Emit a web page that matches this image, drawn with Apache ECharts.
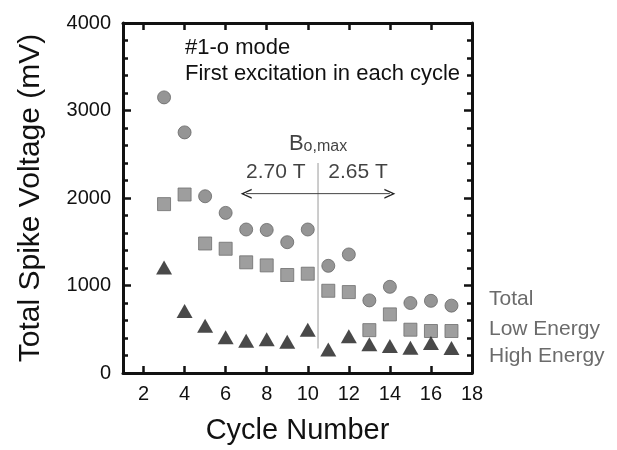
<!DOCTYPE html>
<html>
<head>
<meta charset="utf-8">
<script src="https://cdn.jsdelivr.net/npm/echarts@6/dist/echarts.min.js"></script>
<style>
  html, body { margin: 0; padding: 0; background: #fff; }
  #main { width: 617px; height: 450px; }
</style>
</head>
<body>
<div id="main"></div>
<script>
// cycle numbers and spike voltages (mV)
const cycles = [3, 4, 5, 6, 7, 8, 9, 10, 11, 12, 13, 14, 15, 16, 17];
const totalV = [3150, 2750, 2020, 1830, 1640, 1635, 1495, 1640, 1225, 1355, 830, 985, 800, 825, 770];
const lowV = [1930, 2040, 1480, 1420, 1265, 1230, 1120, 1135, 940, 925, 490, 670, 495, 480, 480];
const highV = [1205, 710, 540, 410, 370, 385, 358, 495, 268, 420, 330, 310, 290, 342, 286];
const xTicks = [2, 4, 6, 8, 10, 12, 14, 16, 18];
const seriesNames = ['Total', 'Low Energy', 'High Energy'];

// field boundary and its labels
const boundaryX = 10.5;
const boundaryY = [280, 2400];
const arrowSpan = [7, 14];
const arrowY = 2050;
const fieldLabels = [
  { x: 8.44, y: 2300, text: '2.70 T' },
  { x: 12.45, y: 2300, text: '2.65 T' },
  { x: 10.5, y: 2620, text: '{b|B}{s|o,max}' }
];

function pairs(xs, ys) {
  return xs.map((x, i) => [x, ys[i]]);
}

const font = '"Liberation Sans", Arial, sans-serif';
const leftHead = 'path://M0,5 L10,0 L10,1.5 L2.8,5 L10,8.5 L10,10 Z';
const rightHead = 'path://M10,5 L0,0 L0,1.5 L7.2,5 L0,8.5 L0,10 Z';

var myChart = echarts.init(document.querySelector('#main'));

// fresh objects for every axis so nothing is shared between them
function xAxisOf(pos, showLabels) {
  return {
    type: 'value', min: 1, max: 18, position: pos,
    splitLine: { show: false },
    axisLine: { show: true, lineStyle: { color: '#111', width: 3 } },
    axisTick: { show: true, inside: true, length: 7, customValues: xTicks.slice(), lineStyle: { color: '#111', width: 2.5 } },
    axisLabel: showLabels
      ? { customValues: xTicks.slice(), margin: 11, fontSize: 20, color: '#111', fontFamily: font }
      : { show: false }
  };
}

function yAxisOf(pos, showLabels) {
  return {
    type: 'value', min: 0, max: 4000, interval: 1000, position: pos,
    splitLine: { show: false },
    axisLine: { show: true, lineStyle: { color: '#111', width: 3 } },
    axisTick: { show: true, inside: true, length: 8, lineStyle: { color: '#111', width: 2.5 } },
    minorTick: { show: true, splitNumber: 5, length: 5, lineStyle: { color: '#111', width: 2.5 } },
    axisLabel: showLabels
      ? { margin: 12, fontSize: 20, color: '#111', fontFamily: font, formatter: v => String(v) }
      : { show: false }
  };
}

const xBottom = xAxisOf('bottom', true);
xBottom.name = 'Cycle Number';
xBottom.nameLocation = 'middle';
xBottom.nameGap = 43;
xBottom.nameTextStyle = { fontSize: 29, color: '#111', fontFamily: font };

// the top axis sits on a hidden y axis that never crosses zero, so it stays at the top
const xTop = xAxisOf('top', false);
xTop.axisLine.onZeroAxisIndex = 2;

const yLeft = yAxisOf('left', true);
yLeft.name = 'Total Spike Voltage (mV)';
yLeft.nameLocation = 'middle';
yLeft.nameGap = 77;
yLeft.nameTextStyle = { fontSize: 30, color: '#111', fontFamily: font };

const yHidden = { type: 'value', show: false, min: 1, max: 2 };

function note(text, left, top, size, color) {
  return {
    text: text, left: left, top: top, padding: 0,
    textStyle: { fontSize: size, fontWeight: 'normal', color: color, fontFamily: font }
  };
}

var option = {
  animation: false,
  grid: { left: 123, right: 145, top: 23, bottom: 77, outerBoundsMode: 'none' },
  title: [
    note('#1-o mode', 185, 37, 22, '#111'),
    note('First excitation in each cycle', 185, 63, 22, '#111'),
    note(seriesNames[0], 489, 289, 21, '#6b6b6b'),
    note(seriesNames[1], 489, 319, 21, '#6b6b6b'),
    note(seriesNames[2], 489, 346, 21, '#6b6b6b')
  ],
  xAxis: [xBottom, xTop],
  yAxis: [yLeft, yAxisOf('right', false), yHidden],
  series: [
    {
      name: 'boundary', type: 'line', silent: true, showSymbol: false,
      lineStyle: { color: '#9a9a9a', width: 1 },
      data: [[boundaryX, boundaryY[0]], [boundaryX, boundaryY[1]]]
    },
    {
      name: 'range', type: 'line', silent: true, showSymbol: true,
      lineStyle: { color: '#444', width: 1 },
      itemStyle: { color: '#222' },
      data: [
        { value: [arrowSpan[0], arrowY], symbol: leftHead, symbolSize: [11, 10] },
        { value: [arrowSpan[1], arrowY], symbol: rightHead, symbolSize: [11, 10] }
      ]
    },
    {
      name: 'labels', type: 'scatter', silent: true, symbolSize: 0,
      label: {
        show: true, position: 'inside', color: '#111', fontSize: 21, fontFamily: font,
        formatter: p => p.data.text,
        rich: {
          b: { fontSize: 22, color: '#111', fontFamily: font, lineHeight: 22, verticalAlign: 'top' },
          s: { fontSize: 16, color: '#111', fontFamily: font, lineHeight: 16, verticalAlign: 'bottom', padding: [11, 0, 0, 0] }
        }
      },
      data: fieldLabels.map(d => ({ value: [d.x, d.y], text: d.text }))
    },
    {
      name: seriesNames[0], type: 'scatter', symbol: 'circle', symbolSize: 13,
      itemStyle: { color: '#7b7b7b', borderColor: '#666', borderWidth: 1 },
      data: pairs(cycles, totalV)
    },
    {
      name: seriesNames[1], type: 'scatter', symbol: 'rect', symbolSize: 13,
      itemStyle: { color: '#868686', borderColor: '#6e6e6e', borderWidth: 1 },
      data: pairs(cycles, lowV)
    },
    {
      name: seriesNames[2], type: 'scatter', symbol: 'triangle', symbolSize: [16, 14],
      itemStyle: { color: '#1c1c1c' },
      data: pairs(cycles, highV)
    }
  ]
};

myChart.setOption(option);
</script>
</body>
</html>
